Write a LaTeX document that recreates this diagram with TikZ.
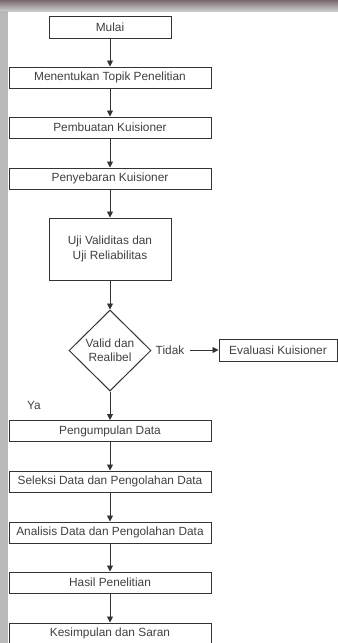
\documentclass[tikz,border=0pt]{standalone}
\usepackage{fontspec}
\setmainfont{Liberation Sans}
\usetikzlibrary{shapes.geometric,arrows.meta}
\definecolor{ink}{HTML}{333333}
\definecolor{txt}{HTML}{404040}
\definecolor{topdark}{RGB}{120,105,110}
\definecolor{toplight}{RGB}{205,205,205}
\definecolor{sidegray}{RGB}{185,185,185}
\begin{document}
\begin{tikzpicture}[x=0.75pt,y=-0.75pt,
  every node/.style={font=\fontsize{8.9pt}{10.7pt}\selectfont, text=txt},
  box/.style={draw=ink, line width=0.75pt, rectangle, inner sep=0pt, minimum height=15.75pt, align=center},
  wide/.style={box, minimum width=151.5pt},
  narrow/.style={box, minimum width=91.5pt},
  dia/.style={draw=ink, line width=0.75pt, diamond, inner sep=0pt, minimum width=61.5pt, minimum height=60.75pt, align=center},
  arr/.style={draw=ink, line width=0.7pt, -{Triangle[width=4.5pt,length=4.5pt]}},
  lbl/.style={inner ysep=1pt, inner xsep=4pt}]
\useasboundingbox (0,0) rectangle (338,643);
% background strips
\fill[white] (0,0) rectangle (338,643);
\shade[top color=topdark, bottom color=toplight] (0,0) rectangle (338,11);
\fill[sidegray] (0,11) rectangle (8,643);

\node[narrow, minimum height=16.5pt] (mulai) at (110,27) {Mulai};
\node[wide] (topik) at (110,77.5) {Menentukan Topik Penelitian};
\node[wide] (buat) at (110,127.5) {Pembuatan Kuisioner};
\node[wide] (sebar) at (110,178.5) {Penyebaran Kuisioner};
\node[narrow, minimum height=46.5pt] (uji) at (110,249) {Uji Validitas dan\\[1pt]Uji Reliabilitas};
\node[dia] (valid) at (110,350.5) {Valid dan\\Realibel};
\node[lbl] (tidak) at (170,350) {Tidak};
\node[box, minimum width=88.5pt, minimum height=16.5pt] (eval) at (278,350) {Evaluasi Kuisioner};
\node[lbl] (ya) at (34,405) {Ya};
\node[wide] (kumpul) at (110,431) {Pengumpulan Data};
\node[wide] (seleksi) at (110,481.5) {Seleksi Data dan Pengolahan Data};
\node[wide] (analisis) at (110,532.5) {Analisis Data dan Pengolahan Data};
\node[wide] (hasil) at (110,582.5) {Hasil Penelitian};
\node[wide] (simpul) at (110,633.5) {Kesimpulan dan Saran};

\draw[arr] (mulai) -- (topik);
\draw[arr] (topik) -- (buat);
\draw[arr] (buat) -- (sebar);
\draw[arr] (sebar) -- (uji);
\draw[arr] (uji) -- (valid);
\draw[arr] (tidak) -- (eval);
\draw[arr] (valid) -- (kumpul);
\draw[arr] (kumpul) -- (seleksi);
\draw[arr] (seleksi) -- (analisis);
\draw[arr] (analisis) -- (hasil);
\draw[arr] (hasil) -- (simpul);
\end{tikzpicture}
\end{document}
